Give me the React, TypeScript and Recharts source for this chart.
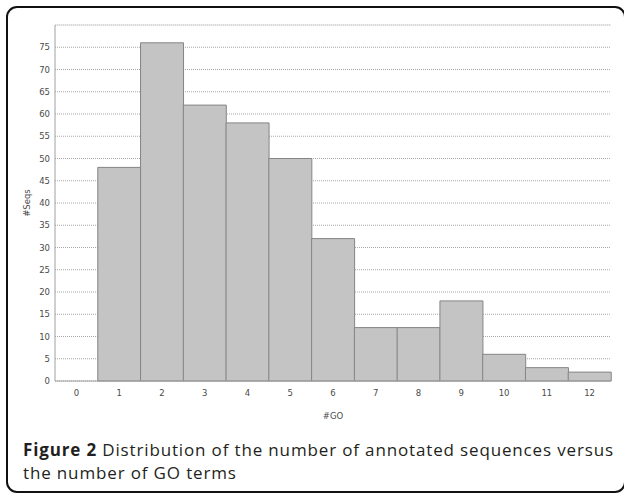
import React from 'react';
import { BarChart, Bar, XAxis, YAxis, CartesianGrid, ReferenceLine } from 'recharts';

const goTerms = ['0', '1', '2', '3', '4', '5', '6', '7', '8', '9', '10', '11', '12'];
const seqCounts = [0, 48, 76, 62, 58, 50, 32, 12, 12, 18, 6, 3, 2];
const yTicks = [0, 5, 10, 15, 20, 25, 30, 35, 40, 45, 50, 55, 60, 65, 70, 75];

const data = goTerms.map((g, i) => ({ go: g, seqs: seqCounts[i] }));

const axisFont = { fontFamily: '"DejaVu Sans", Verdana, sans-serif', fontSize: 8.5, fill: '#4a4a4a' };

export default function App() {
  return (
    <div style={{ position: 'absolute', left: 0, top: 0, width: 624, height: 497, overflow: 'hidden', background: '#fff' }}>
      <div
        style={{
          position: 'absolute',
          left: 6,
          top: 6,
          width: 620,
          height: 487,
          border: '2px solid #111',
          borderRadius: 11,
          boxSizing: 'border-box',
        }}
      />
      <div style={{ position: 'absolute', left: 0, top: 0 }}>
        <BarChart
          width={624}
          height={440}
          data={data}
          margin={{ top: 25, right: 13, left: 0, bottom: 9 }}
          barCategoryGap={0}
        >
          <CartesianGrid vertical={false} horizontal={true} stroke="#a8a8a8" strokeDasharray="1 1" />
          <ReferenceLine y={80} stroke="#dcdcdc" />
          <XAxis
            dataKey="go"
            height={50}
            tickLine={false}
            tickSize={0}
            tickMargin={9}
            axisLine={{ stroke: '#a0a0a0' }}
            tick={axisFont}
            interval={0}
            label={{ value: '#GO', position: 'insideBottom', offset: 12, style: { ...axisFont } }}
          />
          <YAxis
            width={55}
            domain={[0, 80]}
            ticks={yTicks}
            interval={0}
            tickLine={false}
            tickSize={0}
            tickMargin={5}
            axisLine={{ stroke: '#a0a0a0' }}
            tick={axisFont}
            label={{ value: '#Seqs', angle: -90, position: 'insideLeft', offset: 27, style: { ...axisFont, textAnchor: 'middle' } }}
          />
          <YAxis yAxisId="right" orientation="right" width={0} domain={[0, 80]} tick={false} tickLine={false} axisLine={{ stroke: '#dcdcdc' }} />
          <Bar dataKey="seqs" fill="#c4c4c4" stroke="#858585" strokeWidth={1} isAnimationActive={false} />
        </BarChart>
      </div>
      <div
        style={{
          position: 'absolute',
          left: 23,
          top: 438,
          width: 600,
          fontFamily: '"Open Sans", sans-serif',
          fontSize: 17,
          letterSpacing: '0.85px',
          lineHeight: '23px',
          color: '#231f20',
          whiteSpace: 'nowrap',
        }}
      >
        <span style={{ fontWeight: 700 }}>Figure 2</span> Distribution of the number of annotated sequences versus
        <br />
        the number of GO terms
      </div>
    </div>
  );
}
